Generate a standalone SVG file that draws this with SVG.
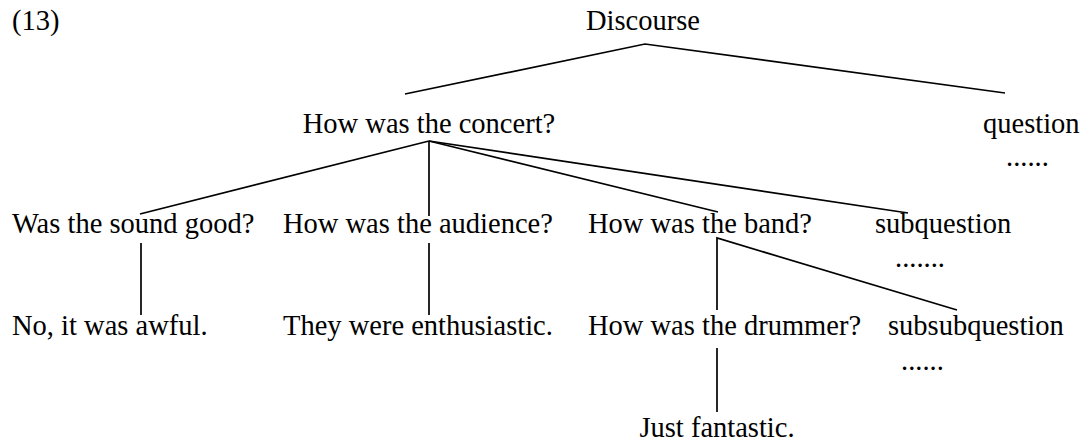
<svg xmlns="http://www.w3.org/2000/svg" width="1089" height="442" viewBox="0 0 1089 442">
<style>
text{font-family:"Liberation Serif","Times New Roman",serif;font-size:28.5px;fill:#000}
.e{stroke:#000;stroke-width:1.7;fill:none}
</style>
<rect width="1089" height="442" fill="#fff"/>
<text x="12" y="30">(13)</text>
<g id="discourse"><text x="643" y="30" text-anchor="middle">Discourse</text></g>
<g id="concert"><text x="429" y="133" text-anchor="middle">How was the concert?</text></g>
<g id="question"><text x="983" y="133">question</text><text x="1006" y="166">......</text></g>
<g id="sound"><text x="12" y="233">Was the sound good?</text></g>
<g id="audience"><text x="283" y="233">How was the audience?</text></g>
<g id="band"><text x="588" y="233">How was the band?</text></g>
<g id="subquestion"><text x="875" y="233">subquestion</text><text x="895" y="267">.......</text></g>
<g id="awful"><text x="12" y="335">No, it was awful.</text></g>
<g id="enthusiastic"><text x="283" y="335">They were enthusiastic.</text></g>
<g id="drummer"><text x="588" y="335">How was the drummer?</text></g>
<g id="subsubquestion"><text x="888" y="335">subsubquestion</text><text x="901" y="370">......</text></g>
<g id="fantastic"><text x="717" y="437" text-anchor="middle">Just fantastic.</text></g>
<g id="connectors" class="e">
<polyline class="e" points="405,94 645,44 1005,93"/>
<line class="e" x1="429" y1="141" x2="140" y2="214"/>
<line class="e" x1="429" y1="141" x2="429" y2="216"/>
<line class="e" x1="429" y1="141" x2="718" y2="212"/>
<line class="e" x1="429" y1="141" x2="908" y2="213"/>
<line class="e" x1="141" y1="243" x2="141" y2="315"/>
<line class="e" x1="429" y1="243" x2="429" y2="315"/>
<polyline class="e" points="717,310 717,238 957,310"/>
<line class="e" x1="717" y1="348" x2="717" y2="412"/>
</g>
</svg>
